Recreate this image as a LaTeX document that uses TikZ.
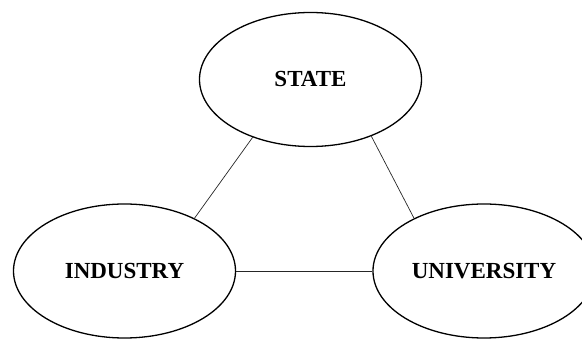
\documentclass[tikz,border=0pt]{standalone}
\usepackage{fontspec}
\setmainfont{Liberation Serif}
\usepackage{tikz}
\usetikzlibrary{shapes.geometric,positioning}
\tikzstyle{sector}=[draw,ellipse,line width=1.3pt,minimum width=222pt,minimum height=134pt,inner sep=0pt,font=\fontsize{23}{27}\selectfont\bfseries]
\tikzstyle{tie}=[line width=0.7pt,black!85]
\begin{document}
\begin{tikzpicture}[x=1pt,y=-1pt]
\clip (0,0) rectangle (582,339);
\node [sector] (st) at (310.5,79.5) {STATE};
\node [sector] (ind) at (124.5,271) {INDUSTRY};
\node [sector] (uni) at (484,271) {UNIVERSITY};
\draw [tie] (st.225) -- (ind.37);
\draw [tie] (st.317) -- (uni.143);
\draw [tie] (ind.east) -- (uni.west);
\end{tikzpicture}
\end{document}
